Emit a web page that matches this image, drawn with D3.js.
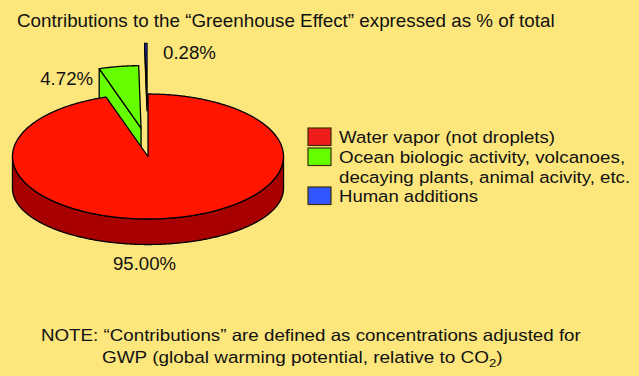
<!DOCTYPE html>
<html><head><meta charset="utf-8">
<script src="https://cdn.jsdelivr.net/npm/d3@7"></script>
<style>
html,body{margin:0;padding:0;background:#fde77d;}
svg{display:block;}
text{font-family:"Liberation Sans",Arial,Helvetica,sans-serif;fill:#111;}
</style>
</head><body>
<svg id="c" width="639" height="376"></svg>
<script>
// ---- data ----
const title = "Contributions to the \u201CGreenhouse Effect\u201D expressed as % of total";
const categories = ["Water vapor (not droplets)", "Ocean biologic activity, volcanoes, decaying plants, animal acivity, etc.", "Human additions"];
const legendLines = [["Water vapor (not droplets)"], ["Ocean biologic activity, volcanoes,", "decaying plants, animal acivity, etc."], ["Human additions"]];
const values = [95.00, 4.72, 0.28];
const valueLabels = ["95.00%", "4.72%", "0.28%"];
const noteLine1 = "NOTE: \u201CContributions\u201D are defined as concentrations adjusted for";
const noteLine2 = ["GWP (global warming potential, relative to CO", "2", ")"];

// ---- style / layout ----
const W = 639, H = 376;
const topColors = ["#ff1500", "#66ff00", "#3348ff"];
const sideColors = ["#a80000", "#66ff00", "#3348ff"];
const legendColors = ["#f01c1c", "#66ff00", "#3355ff"];
const explodeX = [0, 0.31, 0.81];
const explodeY = [0, 0.46, 0.81];
const thickness = [32, 32, 5];
const cx = 148, cy = 156.5, rx = 135.5, ry = 62.5, dep = 32, ryb = 56;

const svg = d3.select("#c");
svg.append("rect").attr("width", W).attr("height", H).attr("fill", "#fde77d");

const pie = d3.pie().sort(null).value(d => d).startAngle(0).endAngle(2 * Math.PI);
const arcs = pie(values);

function offsetOf(i, d) {
  const m = (d.startAngle + d.endAngle) / 2;
  return [rx * explodeX[i] * Math.sin(m), -ry * explodeY[i] * Math.cos(m)];
}
const P = (a, r, o) => [cx + rx * r * Math.sin(a) + o[0], cy - ry * r * Math.cos(a) + o[1]];
const B = (a, r, o) => [cx + rx * r * Math.sin(a) + o[0], cy + dep - ryb * r * Math.cos(a) + o[1]];
function samp(a0, a1, fn, o) {
  const n = Math.max(2, Math.ceil(Math.abs(a1 - a0) / (Math.PI / 360)));
  return d3.range(n + 1).map(j => fn(a0 + (a1 - a0) * j / n, 1, o));
}
const line = d3.line().curve(d3.curveLinear);

const order = arcs.map((d, i) => i).sort((a, b) => {
  const ma = (arcs[a].startAngle + arcs[a].endAngle) / 2, mb = (arcs[b].startAngle + arcs[b].endAngle) / 2;
  return -Math.cos(ma) + Math.cos(mb);
});

const g = svg.append("g").attr("stroke", "#000").attr("stroke-width", 1.3).attr("stroke-linejoin", "round");
order.forEach(i => {
  const d = arcs[i], o = offsetOf(i, d), a0 = d.startAngle, a1 = d.endAngle;
  const sg = g.append("g");
  // outer wall (front part)
  const lo = Math.max(a0, Math.PI / 2), hi = Math.min(a1, 3 * Math.PI / 2);
  if (hi > lo) {
    const pts = samp(lo, hi, P, o).concat(samp(hi, lo, B, o));
    sg.append("path").attr("d", line(pts) + "Z").attr("fill", sideColors[i]);
  }
  const tip = P(0, 0, o);
  const t = thickness[i];
  if (Math.sin(a0) < -1e-6) {
    const q = P(a0, 1, o);
    sg.append("path").attr("d", line([tip, q, [q[0], q[1] + t], [tip[0], tip[1] + t]]) + "Z").attr("fill", sideColors[i]);
  }
  if (Math.sin(a1) > 1e-6) {
    const q = P(a1, 1, o);
    sg.append("path").attr("d", line([tip, q, [q[0], q[1] + t], [tip[0], tip[1] + t]]) + "Z").attr("fill", sideColors[i]);
  }
  // top face
  const topPts = [tip].concat(samp(a0, a1, P, o));
  sg.append("path").attr("d", line(topPts) + "Z").attr("fill", topColors[i]);
});

// fit helper: scale text horizontally to a target width
function fit(sel, x, y, targetW) {
  const w = sel.node().getComputedTextLength();
  const s = targetW / w;
  sel.attr("x", 0).attr("y", 0).attr("transform", `translate(${x},${y}) scale(${s},1)`);
}

// title
fit(svg.append("text").attr("font-size", 18.5).text(title), 17, 27, 538);

// value labels, anchored to slice geometry
(function () {
  const o0 = offsetOf(0, arcs[0]);
  const front = B(Math.PI, 1, o0);
  fit(svg.append("text").attr("font-size", 18.5).attr("text-anchor", "middle").text(valueLabels[0]), front[0] - 3.5, front[1] + 25.5, 63);
  const o1 = offsetOf(1, arcs[1]);
  const q1 = P(arcs[1].startAngle, 1, o1);
  fit(svg.append("text").attr("font-size", 18.5).attr("text-anchor", "end").text(valueLabels[1]), q1[0] - 6, q1[1] + 16.5, 53);
  const o2 = offsetOf(2, arcs[2]);
  const q2 = P(arcs[2].endAngle, 1, o2);
  fit(svg.append("text").attr("font-size", 18.5).text(valueLabels[2]), q2[0] + 16, q2[1] + 16, 53);
})();

// legend
const legY = [143, 163, 202];
const legW = [[216], [286, 291], [139]];
legendLines.forEach((lines, i) => {
  svg.append("rect").attr("x", 308).attr("y", legY[i] - 15).attr("width", 23).attr("height", 17.5)
    .attr("fill", legendColors[i]).attr("stroke", "#3a3000").attr("stroke-width", 1.2);
  lines.forEach((s, j) => {
    fit(svg.append("text").attr("font-size", 16.3).text(s), 339, legY[i] + j * 19.5, legW[i][j]);
  });
});

// note
fit(svg.append("text").attr("font-size", 16.5).text(noteLine1), 41, 340.5, 540);
(function () {
  const t = svg.append("text").attr("font-size", 16.5);
  t.append("tspan").text(noteLine2[0]);
  t.append("tspan").attr("font-size", 11.5).attr("dy", 4).text(noteLine2[1]);
  t.append("tspan").attr("dy", -4).text(noteLine2[2]);
  fit(t, 102, 363, 401);
})();
</script>
</body></html>
